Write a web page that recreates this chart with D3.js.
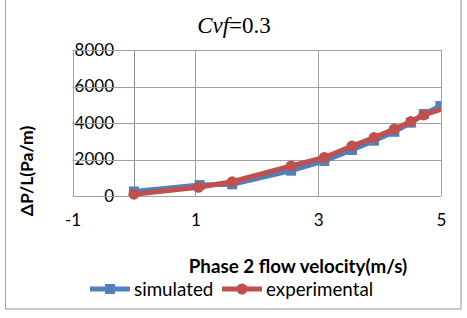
<!DOCTYPE html>
<html><head><meta charset="utf-8">
<script src="https://cdn.jsdelivr.net/npm/d3@7"></script>
<style>body{margin:0;background:#fff;}svg{display:block;}</style>
</head><body>
<svg id="c" width="467" height="318"></svg>
<script>
const xSim = [0, 1.07, 1.6, 2.56, 3.1, 3.55, 3.91, 4.24, 4.51, 4.72, 4.99];
const ySim = [250, 600, 640, 1390, 1920, 2520, 3030, 3520, 4020, 4490, 4930];
const xExp = [0, 1.05, 1.6, 2.56, 3.1, 3.55, 3.91, 4.24, 4.51, 4.72, 5.1];
const yExp = [100, 480, 780, 1650, 2110, 2740, 3200, 3670, 4080, 4440, 4850];
const xTicks = [-1, 1, 3, 5];
const yTicks = [0, 2000, 4000, 6000, 8000];
const seriesNames = ["simulated", "experimental"];
const colors = ["#4F81BD", "#C0504D"];

const FONT = "Lato, 'Open Sans', sans-serif";
const svg = d3.select("#c");
const L = 72.5, R = 441, T = 50, B = 196;
const x = d3.scaleLinear().domain([-1, 5]).range([L, R]);
const y = d3.scaleLinear().domain([0, 8000]).range([B, T]);

// outer border
svg.append("rect").attr("x", 5.5).attr("y", -2).attr("width", 455.5).attr("height", 311)
  .attr("fill", "none").attr("stroke", "#a6a6a6").attr("stroke-width", 1.2);

// gridlines
svg.append("g").selectAll("line").data(xTicks).join("line")
  .attr("y1", T).attr("y2", B).attr("x1", d => Math.round(x(d)) + 0.5).attr("x2", d => Math.round(x(d)) + 0.5)
  .attr("stroke", "#a0a0a0").attr("stroke-width", 1);
// y axis at x = 0
svg.append("line").attr("x1", Math.round(x(0)) + 0.5).attr("x2", Math.round(x(0)) + 0.5)
  .attr("y1", T).attr("y2", B).attr("stroke", "#8c8c8c");

// axis labels
const xAxis = d3.axisBottom(x).tickValues(xTicks).tickSize(0).tickPadding(0).tickFormat(d => String(d));
const gx = svg.append("g").attr("transform", `translate(0,${B + 18})`).call(xAxis);
gx.select(".domain").remove();
gx.selectAll("text").attr("font-family", FONT).attr("font-size", 17).attr("fill", "#000").attr("dy", "0.71em");

const yAxis = d3.axisLeft(y).tickValues(yTicks).tickSize(0).tickPadding(0).tickFormat(d => String(d));
const gy = svg.append("g").attr("transform", `translate(114,0)`).call(yAxis);
gy.select(".domain").remove();
gy.selectAll("text").attr("font-family", FONT).attr("font-size", 17).attr("fill", "#000");
// horizontal gridlines drawn over the labels (as in reference)
svg.append("g").selectAll("line").data(yTicks).join("line")
  .attr("x1", L).attr("x2", R).attr("y1", d => Math.round(y(d)) + 0.5).attr("y2", d => Math.round(y(d)) + 0.5)
  .attr("stroke", "#a0a0a0").attr("stroke-width", 1);

// clip
svg.append("clipPath").attr("id", "clip").append("rect").attr("x", L).attr("y", T - 10).attr("width", R - L).attr("height", B - T + 20);

const line = d3.line().x(d => x(d[0])).y(d => y(d[1]));
const sim = xSim.map((v, i) => [v, ySim[i]]);
const exp = xExp.map((v, i) => [v, yExp[i]]);
const plot = svg.append("g").attr("clip-path", "url(#clip)");

plot.append("path").datum(sim).attr("d", line).attr("fill", "none").attr("stroke", colors[0]).attr("stroke-width", 5).attr("stroke-linejoin", "round");
plot.selectAll(".sq").data(sim).join("rect").attr("class", "sq")
  .attr("x", d => x(d[0]) - 5).attr("y", d => y(d[1]) - 5).attr("width", 10).attr("height", 10).attr("fill", colors[0]);
plot.append("path").datum(exp).attr("d", line).attr("fill", "none").attr("stroke", colors[1]).attr("stroke-width", 5).attr("stroke-linejoin", "round");
plot.selectAll(".ci").data(exp).join("circle").attr("class", "ci")
  .attr("cx", d => x(d[0])).attr("cy", d => y(d[1])).attr("r", 5.5).attr("fill", colors[1]);

// title
const t = svg.append("text").attr("x", 234).attr("y", 33).attr("text-anchor", "middle")
  .attr("font-family", "'Liberation Serif', 'Times New Roman', serif").attr("font-size", 23).attr("fill", "#000");
t.append("tspan").attr("font-style", "italic").text("Cvf");
t.append("tspan").text("=0.3");

// axis titles
svg.append("text").attr("transform", "translate(33,171) rotate(-90)").attr("text-anchor", "middle")
  .attr("font-family", FONT).attr("font-weight", "bold").attr("font-size", 17.5).text("ΔP/L(Pa/m)");
svg.append("text").attr("x", 298).attr("y", 273).attr("text-anchor", "middle")
  .attr("font-family", FONT).attr("font-weight", "bold").attr("font-size", 18.8).text("Phase 2 flow velocity(m/s)");

// legend
const lx = [90, 222];
seriesNames.forEach((n, i) => {
  const g = svg.append("g").attr("transform", `translate(${lx[i]},289)`);
  g.append("line").attr("x1", 0).attr("x2", 40).attr("y1", 0).attr("y2", 0).attr("stroke", colors[i]).attr("stroke-width", 5);
  if (i === 0) g.append("rect").attr("x", 15).attr("y", -5).attr("width", 10).attr("height", 10).attr("fill", colors[i]);
  else g.append("circle").attr("cx", 20).attr("cy", 0).attr("r", 5.5).attr("fill", colors[i]);
  g.append("text").attr("x", 44).attr("y", 6.5).attr("font-family", FONT).attr("font-size", 18.8).text(n);
});
</script>
</body></html>
